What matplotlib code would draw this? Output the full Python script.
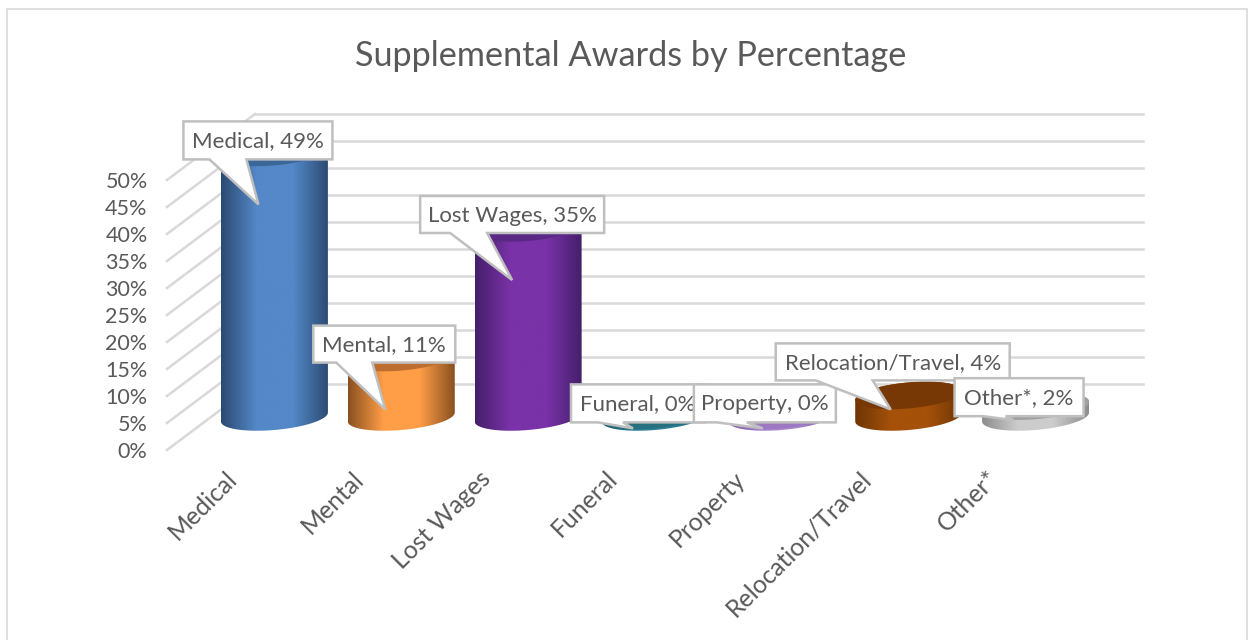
#Supplemental awards as a 3D looking cylinder chart, drawn on a normal 2D axes
import numpy as np
import matplotlib
matplotlib.use("Agg")
import matplotlib.pyplot as plt
from matplotlib.colors import LinearSegmentedColormap
from matplotlib.patches import Polygon, Rectangle
from matplotlib.path import Path

categories = ["Medical", "Mental", "Lost Wages", "Funeral", "Property", "Relocation/Travel", "Other*"]
values = [49, 11, 35, 0.3, 0.3, 4, 2]
value_labels = ["49%", "11%", "35%", "0%", "0%", "4%", "2%"]
y_ticks = [0, 5, 10, 15, 20, 25, 30, 35, 40, 45, 50]

edge_colors = ["#2b4a72", "#8a5020", "#451f6b", "#1d5869", "#7b5f99", "#6e3504", "#8c8c8c"]
mid_colors = ["#5488c8", "#ff9e47", "#7a32a8", "#2b8097", "#a883cf", "#a5510a", "#cccccc"]
top_colors = ["#3b6698", "#bd6d2f", "#5a2885", "#26707f", "#9c78c2", "#773805", "#a0a0a0"]

W, H = 1253, 640
plt.rcParams["font.family"] = "Lato"
fig = plt.figure(figsize=(W / 100, H / 100), dpi=100)
ax = fig.add_axes([167 / W, (H - 450) / H, 888 / W, 270 / H])
ax.patch.set_visible(False)
for s in ax.spines.values():
    s.set_visible(False)

px_x = 888 / 7#pixels per category
px_y = 5.4#pixels per percent
dx = 88 / px_x#depth of the floor
dy = 66 / px_y
rx = 53.5 / px_x#cylinder radius
ry = 13 / px_y
tilt = 4.5 / px_y
grid = "#d9d9d9"

fig.add_artist(Rectangle((7 / W, -0.01), 1240 / W, (H - 9) / H + 0.01, fill=False, ec="#d9d9d9", lw=1.2,
                         transform=fig.transFigure))

#walls
for t in y_ticks:
    ax.plot([-0.5, -0.5 + dx], [t, t + dy], color=grid, lw=1.8, clip_on=False, zorder=1)
    ax.plot([-0.5 + dx, 6.5 + dx], [t + dy, t + dy], color=grid, lw=1.8, clip_on=False, zorder=1)


def ring(cx, cy, a, b):
    ang = np.radians(a) + (np.radians(b) - np.radians(a)) * np.linspace(0, 1, 80)
    x = cx + rx * np.cos(ang)
    y = cy + ry * np.sin(ang) + tilt * np.cos(ang)
    return np.column_stack([x, y])


for i, v in enumerate(values):
    cx = i + dx / 2
    base = dy / 2
    top = base + v
    cmap = LinearSegmentedColormap.from_list("c", [edge_colors[i], mid_colors[i], mid_colors[i], edge_colors[i]])
    grad = cmap(np.linspace(0, 1, 256))[None, :, :]
    body = np.vstack([ring(cx, base, 180, 360), ring(cx, top, 0, 180)])
    im = ax.imshow(grad, extent=[cx - rx, cx + rx, base - ry - 2, top + ry + 2], aspect="auto", zorder=3)
    im.set_clip_path(Path(body, closed=False), ax.transData)
    im.set_clip_box(fig.bbox)
    ax.add_patch(Polygon(ring(cx, top, 0, 360), fc=top_colors[i], ec="none", clip_on=False, zorder=4))

#callouts, in pixels relative to the top of each cylinder: box l, t, r, b, pointer base l, r, tip x, y
callouts = [
    (-91, -31, 58, 7, -65, -28, -16, 52),
    (-88, -32, 54, 5, -65, -29, -16, 52),
    (-108, -32, 76, 5, -78, -41, -16, 52),
    (-84, -31, 49, 7, -57, -32, -22, 13),
    (-88, -31, 54, 7, -65, -35, -19, 13),
    (-133, -52, 101, -15, -93, -36, -18, 14),
    (-81, -28, 48, 10, -52, -30, -22, 14),
]
for i, (l, t, r, b, pl, pr, tx, ty) in enumerate(callouts):
    cx = i + dx / 2
    top = dy / 2 + values[i]
    pts = [(l, t), (r, t), (r, b), (pr, b), (tx, ty), (pl, b), (l, b)]
    pts = [(cx + p / px_x, top - q / px_y) for p, q in pts]
    ax.add_patch(Polygon(pts, fc="white", ec="#bfbfbf", lw=1.8, joinstyle="miter", clip_on=False, zorder=5 + i))
    ax.text(cx + (l + r) / 2 / px_x, top - (t + b) / 2 / px_y - 0.2, categories[i] + ", " + value_labels[i],
            ha="center", va="center", fontsize=16, color="#595959", zorder=5 + i)

ax.set_xlim(-0.5, 6.5)
ax.set_ylim(0, 50)
ax.set_yticks(y_ticks)
ax.set_yticklabels([str(t) + "%" for t in y_ticks], fontsize=15.5, color="#595959")
ax.set_xticks(np.arange(len(categories)) - 0.04)
ax.set_xticklabels(categories, rotation=45, ha="right", rotation_mode="anchor", fontsize=17.8, color="#595959")
ax.tick_params(axis="y", length=0, pad=14)
ax.tick_params(axis="x", length=0, pad=12)

fig.text(631 / W, (H - 56) / H, "Supplemental Awards by Percentage", ha="center", va="center",
         fontsize=24.7, color="#595959")

plt.savefig("out.png", dpi=100)
